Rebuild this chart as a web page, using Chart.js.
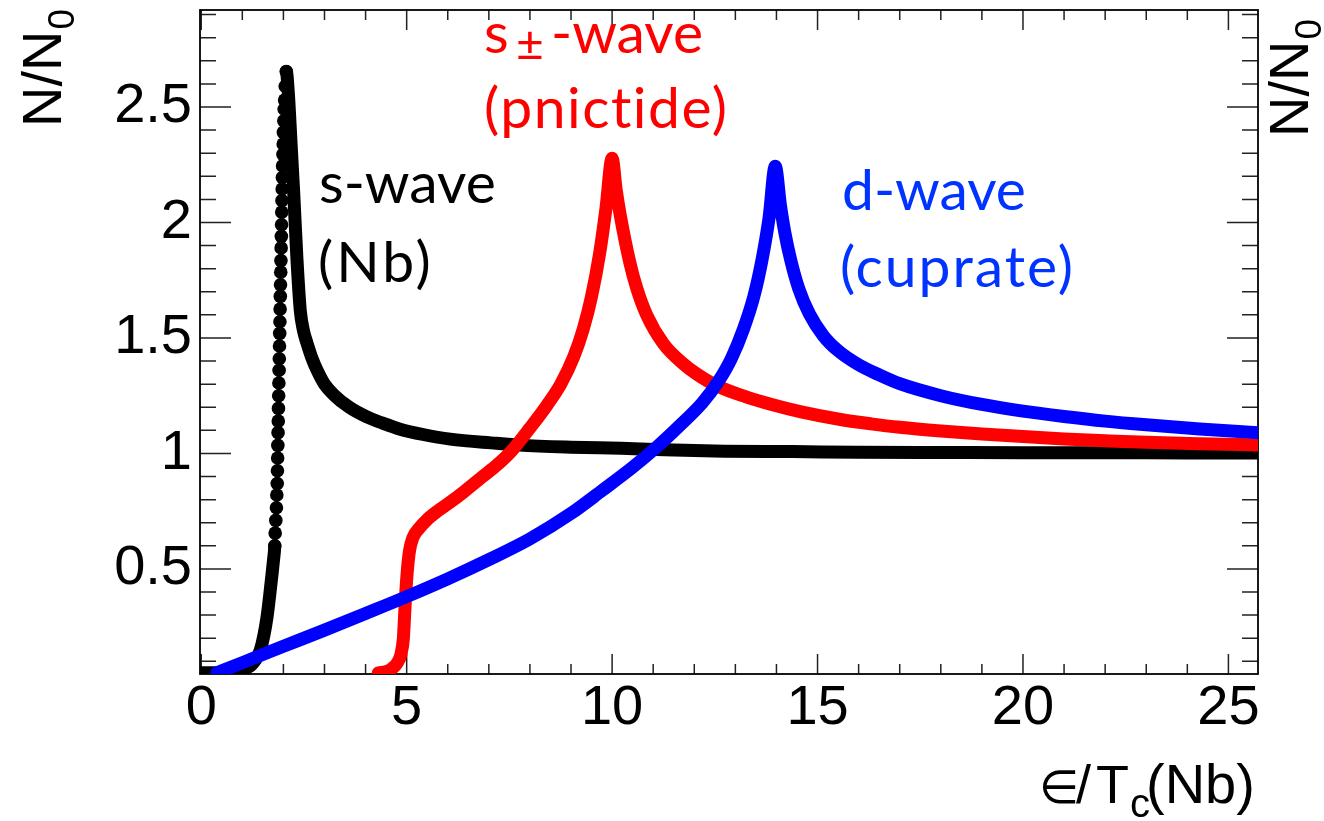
<!DOCTYPE html>
<html><head><meta charset="utf-8">
<script src="https://cdn.jsdelivr.net/npm/chart.js@4.4.0/dist/chart.umd.min.js"></script>
<style>html,body{margin:0;padding:0;background:#fff;}canvas{display:block;}</style>
</head><body>
<canvas id="c" width="1324" height="821"></canvas>
<script>
// ---- tick labels ----
const xTickValues = [0, 5, 10, 15, 20, 25];
const xTickLabels = ['0', '5', '10', '15', '20', '25'];
const yTickValues = [0.5, 1, 1.5, 2, 2.5];
const yTickLabels = ['0.5', '1', '1.5', '2', '2.5'];

// ---- s-wave (Nb), black ----
const sWaveX = [0, 0.3, 0.6, 0.9, 1.1, 1.25, 1.44, 1.6, 1.7, 1.76,
  1.79, 1.80, 1.815, 1.83, 1.84, 1.85, 1.855, 1.86, 1.865, 1.87,
  1.875, 1.88, 1.885, 1.89, 1.895, 1.90, 1.905, 1.91, 1.915, 1.92,
  1.925, 1.93, 1.935, 1.94, 1.945, 1.95, 1.955, 1.96, 1.965, 1.97,
  1.975, 1.98, 1.99, 1.995, 2.0, 2.01, 2.02, 2.03, 2.045, 2.07,
  2.12, 2.19, 2.25, 2.33, 2.41, 2.49, 2.57, 2.7, 2.82, 3.0,
  3.22, 3.6, 4.03, 4.4, 4.84, 5.4, 6.06, 7.19, 7.74, 9.0,
  10.22, 11.5, 12.73, 14.4, 16, 18, 20, 22, 24, 25.72];
const sWaveY = [0.05, 0.05, 0.05, 0.055, 0.07, 0.09, 0.15, 0.29, 0.44, 0.54,
  0.60, 0.655, 0.71, 0.765, 0.82, 0.87, 0.925, 0.98, 1.035, 1.09,
  1.14, 1.195, 1.25, 1.305, 1.36, 1.41, 1.465, 1.52, 1.57, 1.625,
  1.68, 1.73, 1.785, 1.835, 1.89, 1.94, 1.99, 2.045, 2.095, 2.145,
  2.195, 2.245, 2.295, 2.34, 2.39, 2.44, 2.49, 2.53, 2.59, 2.654,
  2.56, 2.33, 2.13, 1.84, 1.62, 1.53, 1.48, 1.41, 1.36, 1.30,
  1.255, 1.20, 1.158, 1.132, 1.105, 1.082, 1.062, 1.044, 1.036, 1.027,
  1.022, 1.015, 1.01, 1.008, 1.005, 1.004, 1.003, 1.003, 1.002, 1.002];

// ---- s± wave (pnictide), red ----
const sPmX = [4.31, 4.5, 4.65, 4.76, 4.86, 4.92, 4.95, 4.98, 5.02, 5.07,
  5.15, 5.3, 5.49, 5.75, 6.03, 6.4, 6.85, 7.2, 7.55, 8.0,
  8.42, 8.75, 9.07, 9.3, 9.5, 9.7, 9.85, 10.0, 10.1, 10.2,
  10.44, 10.6, 10.84, 11.25, 11.72, 12.05, 12.58, 13.26, 13.86, 14.6,
  15.56, 16.3, 17.0, 18.0, 19.0, 20.0, 21.0, 22.0, 23.0, 24.3, 25.72];
const sPmY = [0.05, 0.055, 0.07, 0.09, 0.13, 0.2, 0.3, 0.4, 0.5, 0.58,
  0.635, 0.675, 0.712, 0.75, 0.785, 0.835, 0.9, 0.95, 1.01, 1.11,
  1.21, 1.3, 1.42, 1.54, 1.68, 1.87, 2.06, 2.278, 2.14, 2.03,
  1.82, 1.715, 1.6, 1.475, 1.39, 1.345, 1.29, 1.245, 1.213, 1.18,
  1.147, 1.128, 1.113, 1.097, 1.084, 1.073, 1.063, 1.055, 1.048, 1.042, 1.037];

// ---- d-wave (cuprate), blue ----
const dWaveX = [0.38, 1.0, 2.0, 3.0, 4.0, 5.0, 6.0, 7.0, 8.0, 9.0,
  9.76, 10.5, 11.1, 11.7, 12.2, 12.58, 12.9, 13.2, 13.45, 13.65,
  13.82, 13.97, 14.1, 14.2, 14.35, 14.54, 14.8, 15.14, 15.5, 15.99,
  16.5, 17.0, 18.0, 19.0, 20.0, 21.0, 22.0, 23.0, 24.3, 25.72];
const dWaveY = [0.05, 0.094, 0.165, 0.235, 0.307, 0.38, 0.457, 0.54, 0.63, 0.74,
  0.84, 0.94, 1.03, 1.13, 1.22, 1.31, 1.41, 1.54, 1.68, 1.84,
  2.02, 2.243, 2.07, 1.96, 1.835, 1.715, 1.605, 1.51, 1.445, 1.385,
  1.34, 1.302, 1.25, 1.212, 1.183, 1.16, 1.14, 1.124, 1.106, 1.09];

const toPts = (xs, ys) => xs.map((x, i) => ({x: x, y: ys[i]}));
const sPeak = sWaveY.indexOf(Math.max(...sWaveY));
const onDotEdge = i => i <= sPeak && sWaveY[i] >= 0.6;

const tickFont = {family: '"Liberation Sans", Arial, sans-serif', size: 56};

const deco = {
  id: 'deco',
  beforeDatasetsDraw(chart) {
    const ctx = chart.ctx, a = chart.chartArea;
    const xs = chart.scales.x, ys = chart.scales.y;
    ctx.save();
    ctx.strokeStyle = '#222';
    ctx.lineWidth = 1.5;
    ctx.beginPath();
    for (let i = 0; i <= 25; i++) {
      const px = xs.getPixelForValue(i);
      const len = i % 5 === 0 ? 20 : 10;
      ctx.moveTo(px, a.bottom); ctx.lineTo(px, a.bottom - len);
      ctx.moveTo(px, a.top); ctx.lineTo(px, a.top + len);
    }
    for (let k = 1; k <= 29; k++) {
      const py = ys.getPixelForValue(k / 10);
      const len = k % 5 === 0 ? 31 : 16;
      ctx.moveTo(a.left, py); ctx.lineTo(a.left + len, py);
      ctx.moveTo(a.right, py); ctx.lineTo(a.right - len, py);
    }
    ctx.stroke();
    ctx.lineWidth = 1.8;
    ctx.strokeStyle = '#000';
    ctx.strokeRect(a.left, a.top, a.right - a.left, a.bottom - a.top);
    ctx.restore();
  },
  afterDatasetsDraw(chart) {
    const ctx = chart.ctx;
    ctx.save();
    ctx.textBaseline = 'alphabetic';
    ctx.textAlign = 'left';
    const sans = '"Liberation Sans", "DejaVu Sans", sans-serif';
    // y titles (rotated)
    const yTitle = (bx, by) => {
      ctx.save();
      ctx.translate(bx, by);
      ctx.rotate(-Math.PI / 2);
      ctx.fillStyle = '#000';
      ctx.font = '56px ' + sans;
      ctx.fillText('N/N', 0, 0);
      const w = ctx.measureText('N/N').width;
      ctx.font = '37px ' + sans;
      ctx.fillText('0', w + 1, 13);
      ctx.restore();
    };
    yTitle(61, 127);
    yTitle(1308, 137);
    // x title
    ctx.fillStyle = '#000';
    ctx.font = '46px ' + sans;
    ctx.fillText('\u2208', 1039, 803);
    ctx.font = '54px ' + sans;
    ctx.fillText('/', 1076, 803);
    ctx.fillText('T', 1096, 803);
    ctx.font = '40px ' + sans;
    ctx.fillText('c', 1130, 817);
    ctx.font = '56px ' + sans;
    ctx.fillText('(Nb)', 1146, 803);
    // curve annotations
    const lato = '57px Lato, "Open Sans", sans-serif';
    const wide = (txt, x, y, sp) => { ctx.letterSpacing = sp; ctx.fillText(txt, x, y); ctx.letterSpacing = '0px'; };
    ctx.font = lato;
    ctx.fillStyle = '#000000';
    ctx.fillText('s-wave', 319, 203);
    wide('(Nb)', 318, 282, '3px');
    ctx.fillStyle = '#ff0000';
    ctx.fillText('s', 484, 53);
    ctx.fillText('-wave', 551, 53);
    wide('(pnictide)', 484, 128, '1.5px');
    ctx.font = '48px Lato, "Open Sans", sans-serif';
    ctx.fillText('\u00b1', 516, 61);
    ctx.font = lato;
    ctx.fillStyle = '#0033ff';
    ctx.fillText('d-wave', 842, 210);
    wide('(cuprate)', 840, 287, '2px');
    ctx.restore();
  }
};

const noPadY = s => { s.width = 200; s.paddingTop = 0; s.paddingBottom = 0; };
const noPadX = s => { s.height = 147; s.paddingLeft = 0; s.paddingRight = 0; };

new Chart(document.getElementById('c'), {
  type: 'scatter',
  data: {
    datasets: [
      {
        label: 'd-wave (cuprate)',
        data: toPts(dWaveX, dWaveY),
        showLine: true, borderColor: '#0000ff', backgroundColor: '#0000ff',
        borderWidth: 13, pointRadius: 0, borderCapStyle: 'round', borderJoinStyle: 'round',
        cubicInterpolationMode: 'monotone', order: 1
      },
      {
        label: 's\u00b1-wave (pnictide)',
        data: toPts(sPmX, sPmY),
        showLine: true, borderColor: '#ff0000', backgroundColor: '#ff0000',
        borderWidth: 13, pointRadius: 0, borderCapStyle: 'round', borderJoinStyle: 'round',
        cubicInterpolationMode: 'monotone', order: 2
      },
      {
        label: 's-wave (Nb)',
        data: toPts(sWaveX, sWaveY),
        showLine: true, borderColor: '#000000', backgroundColor: '#000000',
        borderWidth: 13, borderCapStyle: 'round', borderJoinStyle: 'round',
        pointRadius: ctx => onDotEdge(ctx.dataIndex) ? 6.8 : 0,
        pointBorderWidth: 0,
        segment: { borderWidth: ctx => (onDotEdge(ctx.p0DataIndex) && ctx.p1DataIndex <= sPeak) ? 3 : 13 },
        cubicInterpolationMode: 'monotone', order: 3
      }
    ]
  },
  options: {
    responsive: false,
    animation: false,
    devicePixelRatio: 1,
    layout: {padding: {top: 10, right: 66, left: 0, bottom: 0}},
    plugins: {legend: {display: false}, tooltip: {enabled: false}},
    scales: {
      x: {
        type: 'linear', min: -0.03, max: 25.72,
        afterFit: noPadX,
        afterBuildTicks: s => { s.ticks = xTickValues.map(v => ({value: v})); },
        ticks: {
          callback: v => xTickLabels[xTickValues.indexOf(v)],
          font: tickFont, color: '#000', padding: 1, maxRotation: 0, autoSkip: false
        },
        grid: {display: false, drawTicks: false},
        border: {display: false}
      },
      y: {
        type: 'linear', min: 0.045, max: 2.92,
        afterFit: noPadY,
        afterBuildTicks: s => { s.ticks = yTickValues.map(v => ({value: v})); },
        ticks: {
          callback: v => yTickLabels[yTickValues.indexOf(v)],
          font: tickFont, color: '#000', padding: 8, autoSkip: false
        },
        grid: {display: false, drawTicks: false},
        border: {display: false}
      }
    }
  },
  plugins: [deco]
});
</script>
</body></html>
